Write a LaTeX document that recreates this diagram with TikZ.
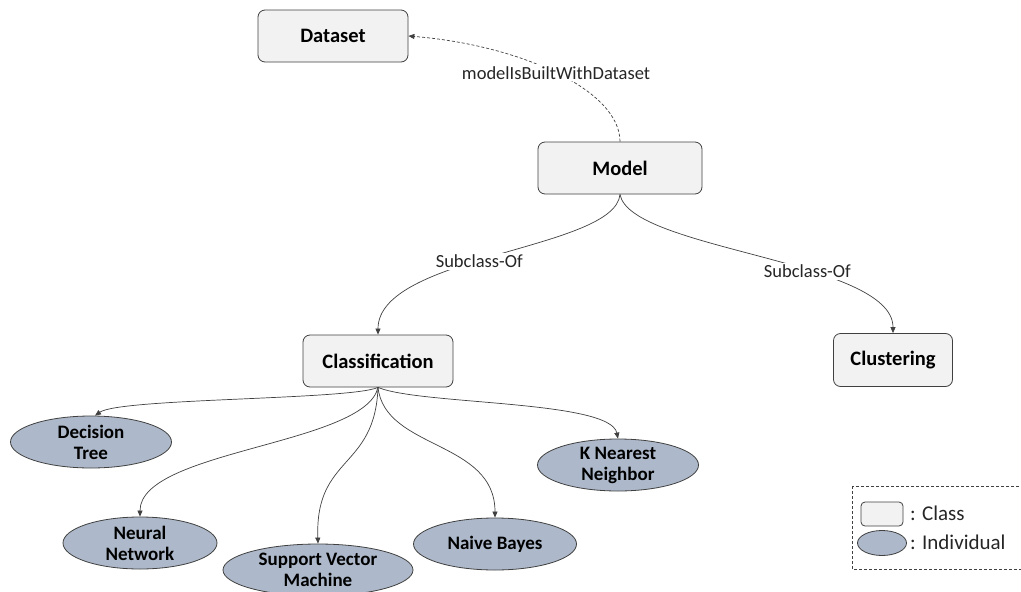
\documentclass[tikz,border=0pt]{standalone}
\usepackage{fontspec}
\setmainfont{Carlito}
\usetikzlibrary{shapes.geometric,arrows.meta}
\definecolor{boxfill}{HTML}{F2F2F2}
\definecolor{ellfill}{HTML}{ADB9CA}
\definecolor{edgecol}{HTML}{404040}
\begin{document}
\begin{tikzpicture}[x=1pt,y=-1pt,
  clsbox/.style={draw=edgecol, line width=0.8pt, fill=boxfill, rounded corners=7pt, inner sep=0pt,
    font=\bfseries\fontsize{20.5}{22}\selectfont},
  indiv/.style={ellipse, draw=edgecol, line width=0.8pt, fill=ellfill, inner sep=0pt,
    minimum width=161pt, minimum height=52pt, align=center,
    font=\bfseries\fontsize{19}{21}\selectfont},
  rel/.style={draw=edgecol, line width=0.7pt, -{Triangle[length=6pt,width=5pt]}},
  lbl/.style={fill=white, inner sep=2pt, font=\fontsize{18.5}{20}\selectfont, text=black!85},
  legtext/.style={anchor=west, inner sep=0pt, font=\fontsize{21}{23}\selectfont, text=black!85}
]
\useasboundingbox (0,0) rectangle (1021,592);

% classes
\node[clsbox, minimum width=150pt, minimum height=52pt] (dataset) at (333,36) {Dataset};
\node[clsbox, minimum width=164pt, minimum height=52pt] (model) at (620,168) {Model};
\node[clsbox, minimum width=150pt, minimum height=52pt] (classif) at (378,361) {Classification};
\node[clsbox, minimum width=119pt, minimum height=53pt] (cluster) at (893,360) {Clustering};

% individuals
\node[indiv] (dtree) at (91,442) {Decision\\Tree};
\node[indiv, minimum width=154pt] (nn) at (140,543) {Neural\\Network};
\node[indiv, minimum width=190pt] (svm) at (318,570) {Support Vector\\Machine};
\node[indiv, minimum width=163pt] (nb) at (495,544) {Naive Bayes};
\node[indiv] (knn) at (618,465) {K Nearest\\Neighbor};

% relations
\draw[rel, dashed, dash pattern=on 3pt off 2pt] (model.north) .. controls (620,90) and (520,45) ..
  node[lbl, pos=0.5] (lmodel) {modelIsBuiltWithDataset} (dataset.east);
\draw[rel] (model.south) .. controls (615,250) and (378,255) ..
  node[lbl, pos=0.55] (lsub1) {Subclass-Of} (classif.north);
\draw[rel] (model.south) .. controls (630,250) and (893,260) ..
  node[lbl, pos=0.62] (lsub2) {Subclass-Of} (cluster.north);

\draw[rel] (classif.south) .. controls (350,400) and (120,398) .. ([xshift=4pt]dtree.north);
\draw[rel] (classif.south) .. controls (365,445) and (140,450) .. (nn.north);
\draw[rel] (classif.south) .. controls (375,470) and (315,455) .. (svm.north);
\draw[rel] (classif.south) .. controls (385,450) and (495,440) .. (nb.north);
\draw[rel] (classif.south) .. controls (420,405) and (610,400) .. (knn.north);

% legend
\draw[edgecol, line width=0.7pt, dashed, dash pattern=on 3pt off 2pt] (852,486) rectangle (1030,569);
\node[draw=edgecol, line width=0.8pt, fill=boxfill, rounded corners=4pt, minimum width=42pt, minimum height=24pt, inner sep=0pt] (legcls) at (882,514) {};
\node[ellipse, draw=edgecol, line width=0.8pt, fill=ellfill, minimum width=49pt, minimum height=25pt, inner sep=0pt] (legind) at (882,543) {};
\node[legtext] (legclstext) at (910,513) {: Class};
\node[legtext] (legindtext) at (910,542) {: Individual};
\end{tikzpicture}
\end{document}
